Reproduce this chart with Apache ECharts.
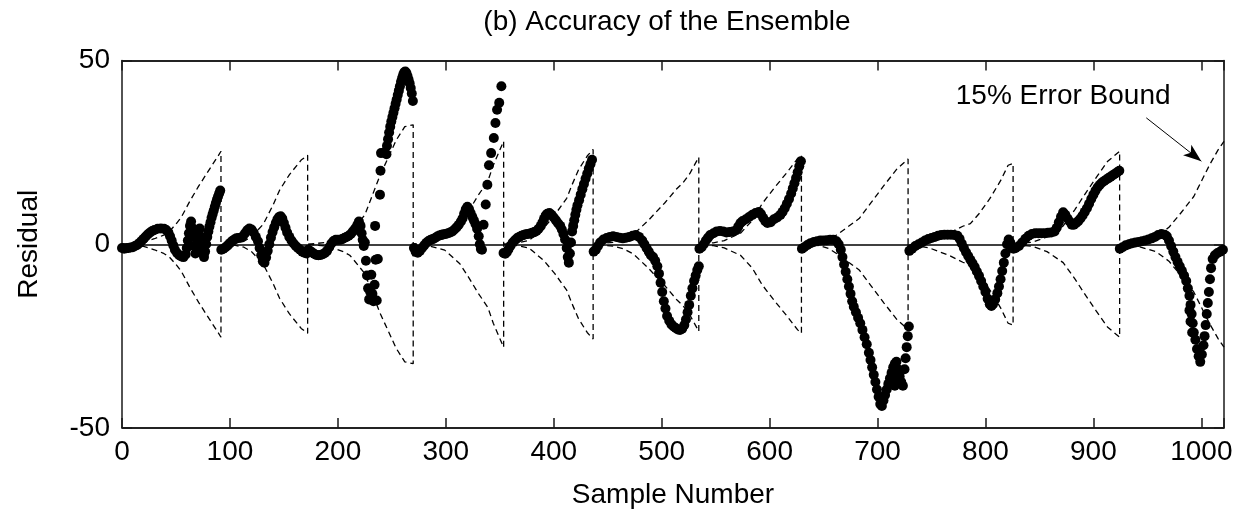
<!DOCTYPE html>
<html>
<head>
<meta charset="utf-8">
<script src="https://cdn.jsdelivr.net/npm/echarts/dist/echarts.min.js"></script>
<style>
html,body{margin:0;padding:0;background:#fff;}
#chart{width:1248px;height:514px;}
</style>
</head>
<body>
<div id="chart"></div>
<script>
const titleText = '(b) Accuracy of the Ensemble';
const xAxisName = 'Sample Number';
const yAxisName = 'Residual';
const xTickLabels = ['0','100','200','300','400','500','600','700','800','900','1000'];
const yTickLabels = ['-50','0','50'];

// residual samples [sample number, residual]
const seg1 = [[0,-1],[2,-1.2],[4,-1.1],[6,-1],[8,-0.9],[10,-0.8],[12,-0.5],[14,-0.2],[16,0.3],[18,0.9],[20,1.5],[22,2.1],[24,2.7],[26,3.2],[28,3.6],[30,3.9],[33,4.2],[36,4.3],[39,4.2],[41,3.9],[43,3.2],[44.5,2.2],[46,1],[47.5,-0.3],[49,-1.5],[51,-2.4],[53,-3],[55,-3.3],[57,-3.5],[59,-2.8],[60,-1],[61,1],[62,3],[63,5],[64,6.2],[65,4.5],[66,2],[67,-0.5],[68,-2.5],[69,-1],[70,1.5],[71,3.5],[72,4.3],[73,2],[74,-0.5],[75,-2.5],[76,-3.5],[77,-2],[78,0],[79,2],[80,3.5],[81,4.8],[82,6],[83,7.2],[84,8.2],[85,9.2],[86,10.2],[87,11.2],[88,12.2],[89,13],[90,13.8],[91,14.6]];
const seg2 = [[92,-1.5],[94,-1.2],[96,-0.8],[98,-0.3],[100,0.3],[102,0.9],[104,1.3],[106,1.6],[108,1.7],[110,1.8],[112,2.2],[114,3],[116,3.8],[118,4.3],[120,4],[122,3.2],[124,2],[126,0.8],[127.5,-1],[129,-3],[130.5,-4.6],[132,-5],[133.5,-3.6],[135,-1.8],[136.5,0],[138,1.8],[139.5,3.3],[141,4.6],[142.5,5.8],[144,6.8],[145.5,7.4],[147,7.6],[148.5,7],[150,5.8],[151.5,4.5],[153,3.2],[155,2],[157,1],[159,0.2],[161,-0.5],[163,-1],[165,-1.5],[167,-2],[169,-2.3],[171,-2.5]];
const seg3 = [[172.5,-1.5],[174,-1.8],[176,-2.2],[178,-2.6],[180,-2.9],[182,-3],[184,-2.9],[186,-2.7],[188,-2.4],[190,-1.8],[192,-0.8],[194,0.2],[196,0.9],[198,1.2],[200,1.2],[202,1.2],[204,1.4],[206,1.7],[208,2],[210,2.3],[212,2.8],[214,3.5],[216,4.3],[218,5.2],[219.5,6.2],[221,5],[222,3],[223,1.2],[224,-0.5],[225,0.5],[226,-4.5],[227,-8.5],[228,-12],[229,-15],[230,-13],[231,-8.3],[232,-13.5],[233,-15.5],[234,-11],[235,-4.2],[236,-15.3],[237,-4],[234.5,5],[239,13.5],[239.5,20],[240,24.8],[243,25],[245,24.5],[245.5,26.8],[246.5,28.6],[247.5,30.4],[248.5,32],[249.5,33.4],[250.5,34.6],[251.5,35.8],[252.5,37],[253.5,38.2],[254.5,39.4],[255.5,40.6],[256.5,41.8],[257.5,43],[258.5,44.2],[259.5,45.2],[260.5,46.1],[261.5,46.8],[262.5,47],[263.5,46.6],[264.5,45.8],[265.5,44.8],[266.5,43.8],[267.5,42.5],[268.5,41],[269.5,39]];
const seg4 = [[270.5,-1],[272,-2],[274,-2.3],[276,-1.8],[278,-1],[280,-0.3],[282,0.4],[284,0.9],[286,1.2],[288,1.4],[290,1.7],[292,2.1],[294,2.4],[296,2.6],[298,2.7],[300,2.8],[302,3],[304,3.2],[306,3.5],[308,4],[310,4.6],[312,5.3],[314,6.2],[315.5,7],[317,8.3],[318.5,9.5],[320,10.2],[321.5,9.6],[323,8.5],[324.5,7.5],[326,6.5],[327.5,5.5],[329,4.2],[330.5,2.2],[331.5,0],[332.5,-1.3],[333.5,-1.5],[335,5.3],[337,10.8],[338.5,16.2],[340,21.5],[342,24.8],[344.5,28.9],[346,33],[347.5,36.6],[349.5,38.5],[351.5,43]];
const seg5 = [[353.5,-2.4],[355,-2.6],[356.5,-2.2],[358,-1.4],[360,-0.4],[362,0.5],[364,1.1],[366,1.6],[368,2],[370,2.3],[372,2.5],[374,2.7],[376,2.8],[378,2.9],[380,3.1],[382,3.3],[384,3.6],[386,4.2],[388,5],[389.5,5.9],[391,6.9],[392.5,7.8],[394,8.3],[396,8.5],[398,8],[400,7.3],[402,6.5],[404,5.7],[406,5],[407.5,4],[409,2.8],[410.5,1.3],[412,-1],[413,-3.5],[414,-5],[415,-2.5],[416,0.5],[417,3.5],[418,5],[419,6.5],[420,8],[421,9.4],[422,10.6],[423.5,12],[425,13.5],[426.5,15],[428,16.4],[429.5,17.8],[431,19.2],[432.5,20.6],[434,21.8],[435.5,23]];
const seg6 = [[437,-2],[439,-1.5],[441,-0.5],[443,0.5],[446,1.3],[449,1.7],[452,2],[455,2.2],[458,2],[461,1.8],[464,1.6],[467,1.8],[470,2],[473,2.3],[476,2.5],[479,2],[482,1],[484,0],[486,-1],[488,-2],[490,-3],[492,-3.5],[494,-4.5],[496,-6],[497.5,-8],[499,-10.5],[500.5,-13],[502,-15.5],[503.5,-17.5],[505,-19.5],[507,-20.8],[509,-21.8],[511,-22.4],[513,-22.8],[515,-23.2],[517,-23.3],[519,-23],[521,-22],[522.5,-20.5],[524,-18.5],[525.5,-16.5],[527,-14],[528.5,-12],[530,-10],[531.5,-8.5],[533,-7],[534.4,-6]];
const seg7 = [[535,-1.2],[537,-0.8],[539,0],[541,1],[543,1.8],[545,2.5],[548,3],[551,3.5],[554,3.6],[557,3.5],[560,3.2],[563,3.3],[566,3.5],[569,3.8],[571,4.8],[573,5.8],[575,6.3],[578,6.8],[581,7.4],[584,8],[587,8.5],[590,8.8],[592,8.2],[594,7.2],[596,6.3],[598,5.8],[601,6],[604,6.8],[607,7.3],[610,8],[612,8.8],[614,9.8],[616,11],[618,12.3],[620,13.8],[621.5,15.2],[623,16.6],[624.5,18],[626,19.6],[627.5,21.2],[629,22.6]];
const seg8 = [[630,-1.2],[632,-0.8],[635,-0.2],[638,0.3],[641,0.6],[644,0.8],[647,1],[650,1],[653,1.1],[656,1.2],[659,1.2],[662,0.8],[664,0],[666,-1.5],[667.5,-3.5],[669,-5.5],[670.5,-7.5],[672,-9.5],[673.5,-11.5],[675,-13.5],[676.5,-15.5],[678,-17],[680,-18.5],[682,-20],[684,-21.5],[686,-23.3],[688,-25.3],[690,-27.2],[692,-29.5],[693.5,-31.5],[695,-33.5],[696.5,-35.5],[698,-37.5],[699.5,-39.5],[701,-41.5],[702.5,-43.5],[704,-44],[705.5,-42.5],[707,-41],[708.5,-39.5],[710,-38],[711.5,-36.5],[713,-35],[714.5,-33.5],[716,-32.5],[717.5,-32],[719,-34],[720.5,-36],[722,-37.5],[723.5,-38.5],[714,-37],[716,-38.5],[718,-37.5],[725,-34],[726,-31],[727,-28],[728,-25],[729,-22.4]];
const seg9 = [[729.5,-1.8],[732,-1.2],[735,-0.5],[738,0],[741,0.5],[744,1],[747,1.4],[750,1.7],[753,2],[756,2.3],[759,2.5],[762,2.6],[765,2.6],[768,2.6],[771,2.5],[774,2.3],[776,1.5],[778,0.2],[780,-1],[782,-2.2],[784,-3.2],[786,-4.2],[788,-5.2],[790,-6.2],[792,-7.4],[794,-8.6],[796,-10],[798,-11.5],[800,-13],[802,-14.8],[804,-16.3],[805.5,-16.8],[807,-16.3],[809,-15],[811,-13.3],[812.5,-11.5],[814,-9.5],[815.5,-7.3],[817,-5],[818.5,-2.5],[820,0],[821.5,1.3],[823,0.5],[825,-1]];
const seg10 = [[826,-1.2],[828,-1],[831,-0.5],[834,0.5],[837,1.5],[840,2.3],[843,2.8],[846,3],[849,3],[852,3],[855,3],[858,3.1],[861,3.2],[864,3.5],[866,4.5],[868,6],[870,7.5],[872,8.7],[874,8],[876,7],[878,6.2],[880,5.3],[882,5.3],[884,5.8],[886,6.3],[888,7],[890,7.8],[892,8.8],[894,9.8],[896,11],[898,12.3],[900,13.5],[902,14.6],[904,15.5],[906,16.2],[908,16.8],[910,17.2],[912,17.6],[914,18],[916,18.4],[918,18.8],[920,19.2],[922,19.6],[924,20]];
const seg11 = [[924.5,-1.2],[927,-0.8],[930,-0.3],[933,0],[936,0.3],[939,0.5],[942,0.6],[945,0.8],[948,1],[951,1.3],[954,1.6],[957,2],[960,2.5],[963,2.8],[966,2.6],[968,2.2],[970,1],[972,-0.5],[974,-2],[976,-3.5],[978,-4.8],[980,-6],[982,-7.2],[984,-8.5],[986,-10],[987.5,-12],[989,-14],[990,-16.5],[991,-19],[992,-21.5],[993,-24],[994.5,-26],[996,-28.5],[997.5,-30.5],[999,-32],[1000.5,-30],[1002,-27.5],[1003,-25],[1004,-22],[1005,-19],[1006,-16],[1007,-13],[1008,-9.5],[1009,-6.5],[1010.5,-4],[1012.5,-3],[1015,-2.4],[1017.5,-2],[1020,-1.5],[990,-21],[991.5,-24],[989,-18]];

// 15% error bound magnitude [sample number, bound]; each batch restarts at 0
const errorBound = [
[0,0],[10,0.2],[20,0.6],[30,1.5],[38,2.4],[44,3.5],[50,5.5],[55,7.4],[63,11.8],[71,15.8],[81,20.4],[89,24],[91.7,25.3],
[91.7,0],[105,0.3],[113,0.8],[120,2],[131,5.5],[140,10.7],[146,14.7],[155,18.9],[166,22.9],[172,24.2],
[172,0],[190,0.5],[205,2],[211,3],[214,4],[225,8],[231,12.6],[239,18.7],[247,23.8],[254,28.3],[262,32],[269.8,32.5],
[269.8,0],[285,0.5],[299,1.6],[313,5.3],[322,9.4],[330,13.3],[339,17.2],[344,21.5],[350,25.6],[353.6,28],
[353.6,0],[365,0.3],[377,1],[381,2],[391,4.5],[401,8],[412,12.5],[417,16.2],[423,20.3],[431,24],[436.5,25.8],
[436.5,0],[455,0.5],[465,1.3],[474,2.7],[488,6.6],[503,11.3],[514,15.1],[520,16.8],[526,19.2],[529,20.8],[534.4,23.7],
[534.4,0],[548,0.4],[558,1],[573,3],[584,6.5],[593,11],[604,15.2],[616,19.5],[626,23.3],[629.5,24.2],
[629.5,0],[645,0.3],[655,1.2],[662,2.5],[670,4.2],[683,7],[694,11.3],[706,16],[718,20.5],[728.3,23.2],
[728.3,0],[748,1],[766,3],[779,4.9],[786,5.6],[794,8.3],[804,12.4],[814,17.3],[821,21.5],[825.6,22],
[825.6,0],[844,0.6],[857,2],[872,5],[883,9.5],[893,14],[902.7,18.2],[913,22.5],[921,24.5],[924.3,25.3],
[924.3,0],[940,0.5],[958,2],[970,4.6],[981,8.5],[993,13],[1002,18.3],[1008,21.8],[1015.4,25.6],[1021,28]
];

const annotationText = '15% Error Bound';
const annotationAt = [872, 40.2];
const arrowFrom = [949, 34.4];
const arrowTo = [1000, 22.6];

const residual = [].concat(seg1, seg2, seg3, seg4, seg5, seg6, seg7, seg8, seg9, seg10, seg11);
const upperBound = errorBound.map(p => [p[0], p[1]]);
const lowerBound = errorBound.map(p => [p[0], -p[1]]);

const FONT = '"Liberation Sans", Arial, Helvetica, sans-serif';
const FS = 28;
const frame = { color: '#1a1a1a', width: 1.5 };
const dash = { color: '#000', width: 1.3, type: [6, 4] };

const chart = echarts.init(document.getElementById('chart'), null, { renderer: 'canvas' });
chart.setOption({
  animation: false,
  backgroundColor: '#fff',
  title: {
    text: titleText,
    left: 662, top: 3, textAlign: 'center',
    textStyle: { fontFamily: FONT, fontSize: FS, fontWeight: 'normal', color: '#000' }
  },
  grid: { left: 122, right: 24, top: 60.5, bottom: 86, containLabel: false },
  xAxis: [{
    type: 'value', min: 0, max: 1021, interval: 100, position: 'bottom',
    name: xAxisName, nameLocation: 'middle', nameGap: 53,
    nameTextStyle: { fontFamily: FONT, fontSize: FS, color: '#000' },
    axisLine: { show: true, onZero: false, lineStyle: frame },
    axisTick: { show: true, inside: true, length: 10, lineStyle: frame },
    axisLabel: {
      fontFamily: FONT, fontSize: FS, color: '#000', margin: 10,
      formatter: v => { const s = String(Math.round(v)); return (Math.abs(v - Math.round(v)) < 1e-6 && xTickLabels.includes(s)) ? s : ''; }
    },
    splitLine: { show: false }
  }, {
    type: 'value', min: 0, max: 1021, interval: 100, position: 'top',
    axisLine: { show: true, onZero: false, lineStyle: frame },
    axisTick: { show: true, inside: true, length: 10, lineStyle: frame },
    axisLabel: { show: false }, splitLine: { show: false }
  }],
  yAxis: [{
    type: 'value', min: -50, max: 50, interval: 50, position: 'left',
    name: yAxisName, nameLocation: 'middle', nameGap: 79, nameRotate: 90,
    nameTextStyle: { fontFamily: FONT, fontSize: FS, color: '#000' },
    axisLine: { show: true, onZero: false, lineStyle: frame },
    axisTick: { show: true, inside: true, length: 10, lineStyle: frame },
    axisLabel: {
      fontFamily: FONT, fontSize: FS, color: '#000', margin: 12,
      formatter: v => { const s = String(v); return yTickLabels.includes(s) ? s : ''; }
    },
    splitLine: { show: true, lineStyle: { color: '#000', width: 1.5 } }
  }, {
    type: 'value', min: -50, max: 50, interval: 50, position: 'right',
    axisLine: { show: true, onZero: false, lineStyle: frame },
    axisTick: { show: true, inside: true, length: 10, lineStyle: frame },
    axisLabel: { show: false }, splitLine: { show: false }
  }],
  series: [
    { type: 'line', name: 'upper', data: upperBound, symbol: 'none', lineStyle: dash, z: 2, silent: true },
    { type: 'line', name: 'lower', data: lowerBound, symbol: 'none', lineStyle: dash, z: 2, silent: true },
    { type: 'scatter', name: 'residual', data: residual, symbol: 'circle', symbolSize: 10,
      itemStyle: { color: '#000', opacity: 1 }, z: 3, silent: true },
    { type: 'scatter', name: 'annotation', data: [annotationAt], symbolSize: 1,
      itemStyle: { color: '#fff', opacity: 0 }, z: 4, silent: true,
      label: { show: true, position: 'inside', formatter: annotationText, opacity: 1,
        fontFamily: FONT, fontSize: FS, color: '#000' },
      markLine: {
        silent: true, symbol: ['none', 'arrow'], symbolSize: [10, 18],
        lineStyle: { color: '#000', width: 1, type: 'solid', opacity: 1 },
        label: { show: false },
        data: [[{ coord: arrowFrom }, { coord: arrowTo }]]
      }
    }
  ]
});
</script>
</body>
</html>
